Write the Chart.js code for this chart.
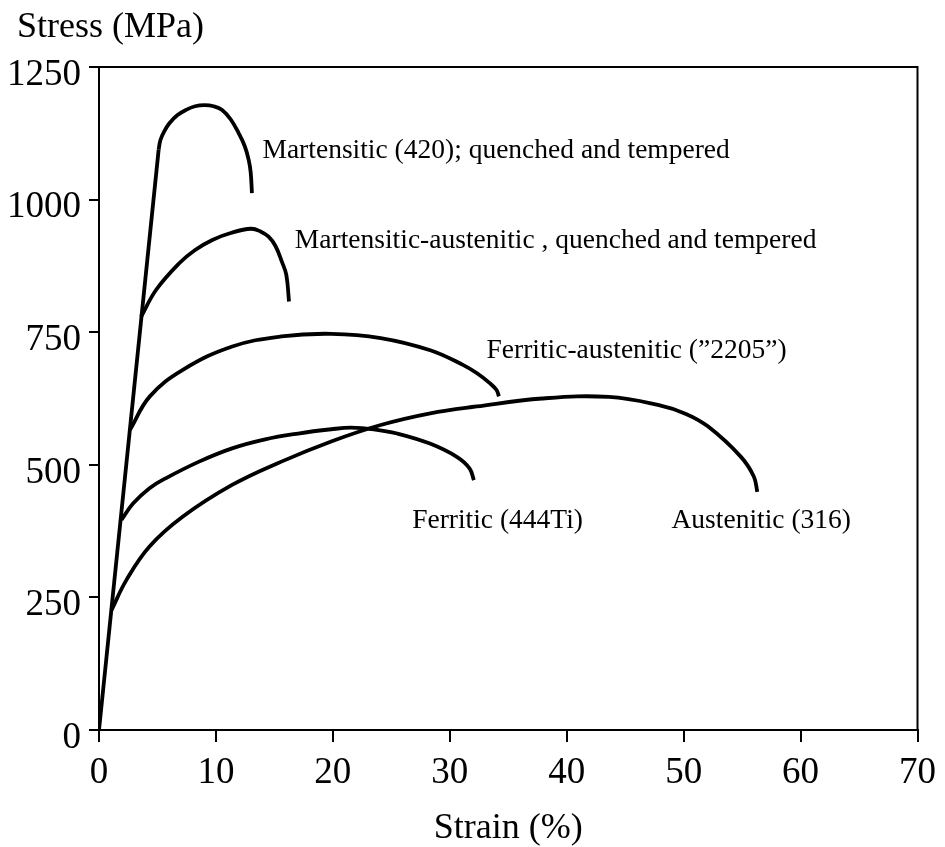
<!DOCTYPE html>
<html>
<head>
<meta charset="utf-8">
<script src="https://cdn.jsdelivr.net/npm/chart.js@4/dist/chart.umd.min.js"></script>
<style>
  html, body { margin: 0; padding: 0; background: #fff; }
  #wrap { width: 945px; height: 847px; }
</style>
</head>
<body>
<div id="wrap"><canvas id="c" width="945" height="847"></canvas></div>
<script>
// ---- Data (strain %, stress MPa) ----
// common elastic line
const elasticStrain = [0, 5.1];
const elasticStress = [0, 1094];

// plastic parts, each starting where it leaves the elastic line
const martensiticStrain = [5.1, 5.25, 5.59, 6.02, 6.69, 7.43, 8.22, 9.04, 9.8, 10.53, 11.27, 11.95, 12.46, 12.8, 12.97, 13.08];
const martensiticStress = [1094, 1112, 1129, 1144, 1159, 1169, 1176, 1178, 1176, 1169, 1151, 1125, 1101, 1075, 1052, 1012];

const martAustStrain = [3.6, 4.89, 6.86, 8.22, 9.69, 11.27, 13.0, 13.81, 14.5, 15.08, 15.62, 16.02, 16.25];
const martAustStress = [779, 830, 880, 905, 924, 937, 945, 940, 930, 913, 884, 858, 808];

const ferrAustStrain = [2.65, 4.35, 7.17, 11.4, 15.6, 19.86, 24.09, 28.33, 31.16, 32.3, 33.42, 34.0, 34.2];
const ferrAustStress = [566, 629, 679, 723, 742, 747, 739, 716, 688, 673, 654, 641, 629];

const ferriticStrain = [1.92, 2.91, 4.32, 5.74, 8.56, 11.38, 14.21, 17.03, 19.86, 21.55, 23.5, 25.5, 28.3, 30.6, 31.7, 32.06];
const ferriticStress = [396, 427, 456, 475, 506, 531, 548, 559, 567, 570, 567, 559, 540, 515, 493, 471];

const austeniticStrain = [1.07, 2.35, 4.32, 7.15, 11.38, 15.6, 19.86, 24.09, 28.33, 32.3, 37.9, 43.6, 47.8, 50.2, 52.1, 54.9, 56.0, 56.3];
const austeniticStress = [226, 283, 346, 402, 462, 506, 544, 575, 597, 610, 625, 628, 613, 596, 572, 515, 478, 449];

const labelTexts  = ['Martensitic (420); quenched and tempered',
                     'Martensitic-austenitic , quenched and tempered',
                     'Ferritic-austenitic (\u201D2205\u201D)',
                     'Ferritic (444Ti)',
                     'Austenitic (316)'];
const labelStrain = [13.98, 16.75, 33.14, 26.78, 48.96];
const labelStress = [1078, 908, 701, 381, 381];

const xTicks = [0, 10, 20, 30, 40, 50, 60, 70];
const yTicks = [0, 250, 500, 750, 1000, 1250];
const yTitle = 'Stress (MPa)';
const xTitle = 'Strain (%)';

function pts(xs, ys) { return xs.map((x, i) => ({ x: x, y: ys[i] })); }

const serif = 'Liberation Serif, Times New Roman, serif';

const frame = {
  id: 'frame',
  afterDraw(chart) {
    const { ctx, chartArea: a } = chart;
    ctx.save();
    ctx.strokeStyle = '#000';
    ctx.lineWidth = 2;
    ctx.beginPath();
    ctx.moveTo(a.left, a.top);
    ctx.lineTo(a.right, a.top);
    ctx.lineTo(a.right, a.bottom);
    ctx.stroke();
    // y-axis title, written horizontally above the axis
    ctx.fillStyle = '#000';
    ctx.font = '36px ' + serif;
    ctx.textAlign = 'left';
    ctx.textBaseline = 'alphabetic';
    ctx.fillText(yTitle, 17, 37);
    ctx.restore();
  }
};

const curveLabels = {
  id: 'curveLabels',
  afterDatasetsDraw(chart) {
    const { ctx, scales } = chart;
    ctx.save();
    ctx.fillStyle = '#000';
    ctx.font = '27.5px ' + serif;
    ctx.textAlign = 'left';
    ctx.textBaseline = 'alphabetic';
    labelTexts.forEach((t, i) => {
      ctx.fillText(t, scales.x.getPixelForValue(labelStrain[i]), scales.y.getPixelForValue(labelStress[i]));
    });
    ctx.restore();
  }
};

const ds = (label, xs, ys, tension) => ({
  label: label,
  data: pts(xs, ys),
  borderColor: '#000',
  backgroundColor: '#000',
  borderWidth: 3.8,
  borderCapStyle: 'butt',
  borderJoinStyle: 'round',
  pointRadius: 0,
  pointHoverRadius: 0,
  tension: tension,
  fill: false
});

new Chart(document.getElementById('c'), {
  type: 'line',
  data: {
    datasets: [
      ds('Elastic', elasticStrain, elasticStress, 0),
      ds(labelTexts[0], martensiticStrain, martensiticStress, 0.4),
      ds(labelTexts[1], martAustStrain, martAustStress, 0.4),
      ds(labelTexts[2], ferrAustStrain, ferrAustStress, 0.4),
      ds(labelTexts[3], ferriticStrain, ferriticStress, 0.4),
      ds(labelTexts[4], austeniticStrain, austeniticStress, 0.4)
    ]
  },
  options: {
    responsive: false,
    animation: false,
    events: [],
    layout: { padding: { left: 0, right: 20, top: 67, bottom: 0 } },
    plugins: {
      legend: { display: false },
      tooltip: { enabled: false },
      title: { display: false }
    },
    scales: {
      x: {
        type: 'linear',
        min: 0, max: 70,
        afterBuildTicks(scale) { scale.ticks = xTicks.map(v => ({ value: v })); },
        afterFit(scale) { scale.height = 117; },
        border: { display: true, color: '#000', width: 2 },
        grid: { display: true, drawOnChartArea: false, drawTicks: true, tickLength: 12, color: '#000', lineWidth: 2 },
        ticks: { color: '#000', padding: 9, maxRotation: 0, font: { family: serif, size: 37 },
                 callback: (v) => String(v) },
        title: {
          display: true, text: xTitle, color: '#000',
          font: { family: serif, size: 36, lineHeight: 1.05 },
          padding: { top: 0, bottom: 0 }
        }
      },
      y: {
        type: 'linear',
        min: 0, max: 1250,
        afterBuildTicks(scale) { scale.ticks = yTicks.map(v => ({ value: v })); },
        afterFit(scale) { scale.width = 99; },
        border: { display: true, color: '#000', width: 2 },
        grid: { display: true, drawOnChartArea: false, drawTicks: true, tickLength: 10, color: '#000', lineWidth: 2 },
        ticks: { color: '#000', padding: 8, labelOffset: 8, font: { family: serif, size: 37 },
                 callback: (v) => String(v) }
      }
    }
  },
  plugins: [frame, curveLabels]
});
</script>
</body>
</html>
